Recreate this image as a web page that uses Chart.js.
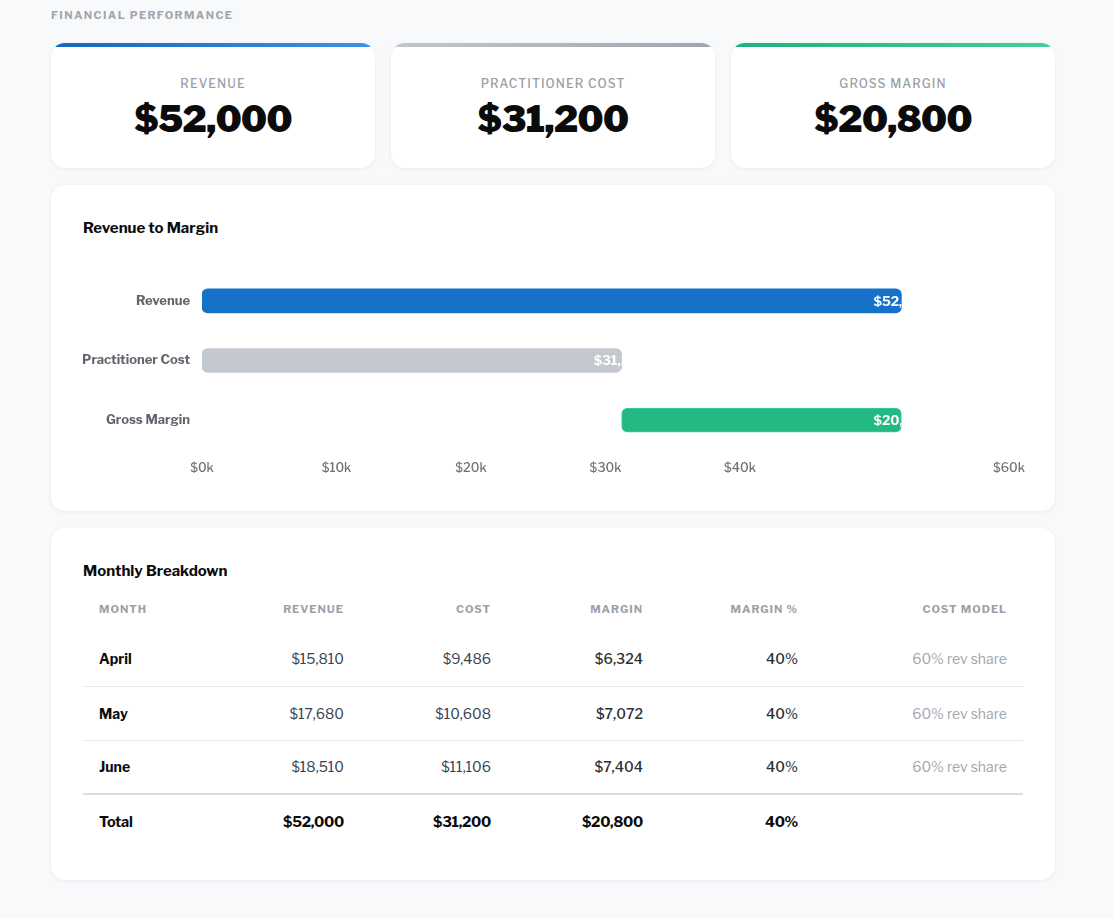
<!DOCTYPE html>
<html>
<head>
<meta charset="utf-8">
<script src="https://cdn.jsdelivr.net/npm/chart.js@4.4.1/dist/chart.umd.min.js"></script>
<style>
  * { box-sizing: border-box; margin: 0; padding: 0; }
  html, body { width: 1113px; height: 918px; background: #f8f9fb; font-family: 'Libre Franklin', Inter, sans-serif; color: #111; overflow: hidden; }
  .wrap { position: absolute; left: 51px; top: 0; width: 1004px; }
  .section-title { position: absolute; top: 8px; left: 0; font-size: 11px; font-weight: 700; letter-spacing: 1.4px; color: #a1a5ad; }
  .kpis { position: absolute; top: 43px; left: 0; width: 1004px; height: 125px; display: flex; gap: 16px; }
  .kpi { position: relative; flex: 1; background: #fff; border-radius: 14px; overflow: hidden; box-shadow: 0 1px 4px rgba(17,24,39,0.06); text-align: center; }
  .kpi::before { content: ''; position: absolute; left: 0; right: 0; top: 0; height: 4px; }
  .kpi.rev::before { background: linear-gradient(90deg, #1268c0, #3a95e2); }
  .kpi.cost::before { background: linear-gradient(90deg, #c3c6cc, #a2a5ad); }
  .kpi.mar::before { background: linear-gradient(90deg, #1fb27c, #43cf98); }
  .kpi .lbl { position: absolute; left: 0; right: 0; top: 33px; font-size: 12px; letter-spacing: 1.1px; color: #9ca0a8; font-weight: 500; }
  .kpi .val { position: absolute; left: 0; right: 0; top: 54px; font-size: 36px; font-weight: 900; letter-spacing: -0.6px; color: #0b0b0c; }
  .card { position: absolute; left: 0; width: 1004px; background: #fff; border-radius: 14px; box-shadow: 0 1px 4px rgba(17,24,39,0.06); }
  .card h2 { position: absolute; left: 32px; font-size: 15px; font-weight: 700; color: #0b0b0c; }
  .chart-card { top: 185px; height: 326px; }
  .chart-card h2 { top: 34px; }
  .chart-box { position: absolute; left: 32px; top: 62px; width: 953px; height: 244px; }
  .table-card { top: 528px; height: 352px; }
  .table-card h2 { top: 34px; }
  table { position: absolute; left: 32px; top: 58px; width: 940px; border-collapse: collapse; table-layout: fixed; }
  th { height: 46px; font-size: 11px; font-weight: 700; letter-spacing: 1px; color: #9ca0a8; text-transform: uppercase; padding: 0 16px; text-align: right; }
  td { height: 54px; font-size: 14px; padding: 0 16px; text-align: right; color: #374151; border-bottom: 1px solid #e8e9ec; }
  th:first-child, td:first-child { text-align: left; }
  td:first-child { font-weight: 700; color: #0b0b0c; }
  td.m { font-weight: 500; color: #2b2f36; }
  td.cm { color: #a1a5ad; }
  tr.last td { border-bottom: 2px solid #dcdde0; }
  tr.total td { border-bottom: none; font-weight: 700; font-size: 14.5px; letter-spacing: -0.3px; color: #0b0b0c; }
</style>
</head>
<body>
<div class="wrap">
  <div class="section-title">FINANCIAL PERFORMANCE</div>
  <div class="kpis" id="kpis"></div>
  <div class="card chart-card">
    <h2>Revenue to Margin</h2>
    <div class="chart-box"><canvas id="chart"></canvas></div>
  </div>
  <div class="card table-card">
    <h2>Monthly Breakdown</h2>
    <table id="tbl"></table>
  </div>
</div>
<script>
// ---- data ----
const kpiLabels = ['REVENUE', 'PRACTITIONER COST', 'GROSS MARGIN'];
const kpiValues = [52000, 31200, 20800];
const categories = ['Revenue', 'Practitioner Cost', 'Gross Margin'];
const barStarts = [0, 0, 31200];
const barEnds = [52000, 31200, 52000];
const barLabels = ['$52,000', '$31,200', '$20,800'];
const xTickValues = [0, 10000, 20000, 30000, 40000, 60000];
const months = ['April', 'May', 'June'];
const monthRevenue = [15810, 17680, 18510];
const monthCost = [9486, 10608, 11106];
const monthMargin = [6324, 7072, 7404];
const monthMarginPct = [40, 40, 40];
const monthCostModel = ['60% rev share', '60% rev share', '60% rev share'];
const tableHeaders = ['Month', 'Revenue', 'Cost', 'Margin', 'Margin %', 'Cost Model'];
const totalRow = ['Total', 52000, 31200, 20800, 40, ''];

const fmt = v => '$' + v.toLocaleString('en-US');

// KPI cards
const kpiClasses = ['rev', 'cost', 'mar'];
document.getElementById('kpis').innerHTML = kpiLabels.map((l, i) =>
  `<div class="kpi ${kpiClasses[i]}"><div class="lbl">${l}</div><div class="val">${fmt(kpiValues[i])}</div></div>`).join('');

// Table
const colW = [130, 147, 147, 152, 155, 209];
let html = '<colgroup>' + colW.map(w => `<col style="width:${w}px">`).join('') + '</colgroup>';
html += '<tr>' + tableHeaders.map(h => `<th>${h}</th>`).join('') + '</tr>';
months.forEach((m, i) => {
  html += `<tr class="${i === months.length - 1 ? 'last' : ''}"><td>${m}</td><td>${fmt(monthRevenue[i])}</td><td>${fmt(monthCost[i])}</td><td class="m">${fmt(monthMargin[i])}</td><td class="m">${monthMarginPct[i]}%</td><td class="cm">${monthCostModel[i]}</td></tr>`;
});
html += `<tr class="total"><td>${totalRow[0]}</td><td>${fmt(totalRow[1])}</td><td>${fmt(totalRow[2])}</td><td>${fmt(totalRow[3])}</td><td>${totalRow[4]}%</td><td>${totalRow[5]}</td></tr>`;
document.getElementById('tbl').innerHTML = html;

// Chart
const barColors = ['#1572c8', '#c4c8cf', '#22b982'];
const labelPlugin = {
  id: 'clippedLabels',
  afterDatasetsDraw(chart) {
    const { ctx } = chart;
    const meta = chart.getDatasetMeta(0);
    meta.data.forEach((bar, i) => {
      const p = bar.getProps(['x', 'y', 'base', 'height'], true);
      const left = Math.min(p.x, p.base), right = Math.max(p.x, p.base);
      ctx.save();
      ctx.beginPath();
      ctx.rect(left, p.y - p.height / 2, right - left, p.height);
      ctx.clip();
      ctx.fillStyle = '#ffffff';
      ctx.font = "700 13px 'Libre Franklin', Inter, sans-serif";
      ctx.textAlign = 'left';
      ctx.textBaseline = 'middle';
      ctx.fillText(barLabels[i], right - 28, p.y + 1);
      ctx.restore();
    });
  }
};

new Chart(document.getElementById('chart'), {
  type: 'bar',
  data: {
    labels: categories,
    datasets: [{
      data: categories.map((c, i) => [barStarts[i], barEnds[i]]),
      backgroundColor: barColors,
      borderColor: ['#1572c8', '#c4c8cf', '#3fcf98'],
      borderWidth: [0, 0, 1],
      borderRadius: 6,
      borderSkipped: false,
      barThickness: 24
    }]
  },
  options: {
    indexAxis: 'y',
    responsive: true,
    maintainAspectRatio: false,
    animation: false,
    layout: { padding: { top: 24, right: 16, bottom: 4, left: 0 } },
    plugins: { legend: { display: false }, tooltip: { enabled: false } },
    scales: {
      x: {
        min: 0, max: 60000,
        afterBuildTicks: s => { s.ticks = xTickValues.map(v => ({ value: v })); },
        grid: { display: false, drawTicks: false },
        border: { display: false },
        ticks: {
          padding: 11,
          color: '#6f737b',
          font: { family: "'Libre Franklin', Inter, sans-serif", size: 12.5, weight: '500' },
          callback: v => '$' + (v / 1000) + 'k'
        }
      },
      y: {
        grid: { display: false, drawTicks: false },
        border: { display: false },
        afterFit: s => { s.width = 119; },
        ticks: {
          padding: 12,
          color: '#60646c',
          font: { family: "'Libre Franklin', Inter, sans-serif", size: 13, weight: '700' }
        }
      }
    }
  },
  plugins: [labelPlugin]
});
</script>
</body>
</html>
